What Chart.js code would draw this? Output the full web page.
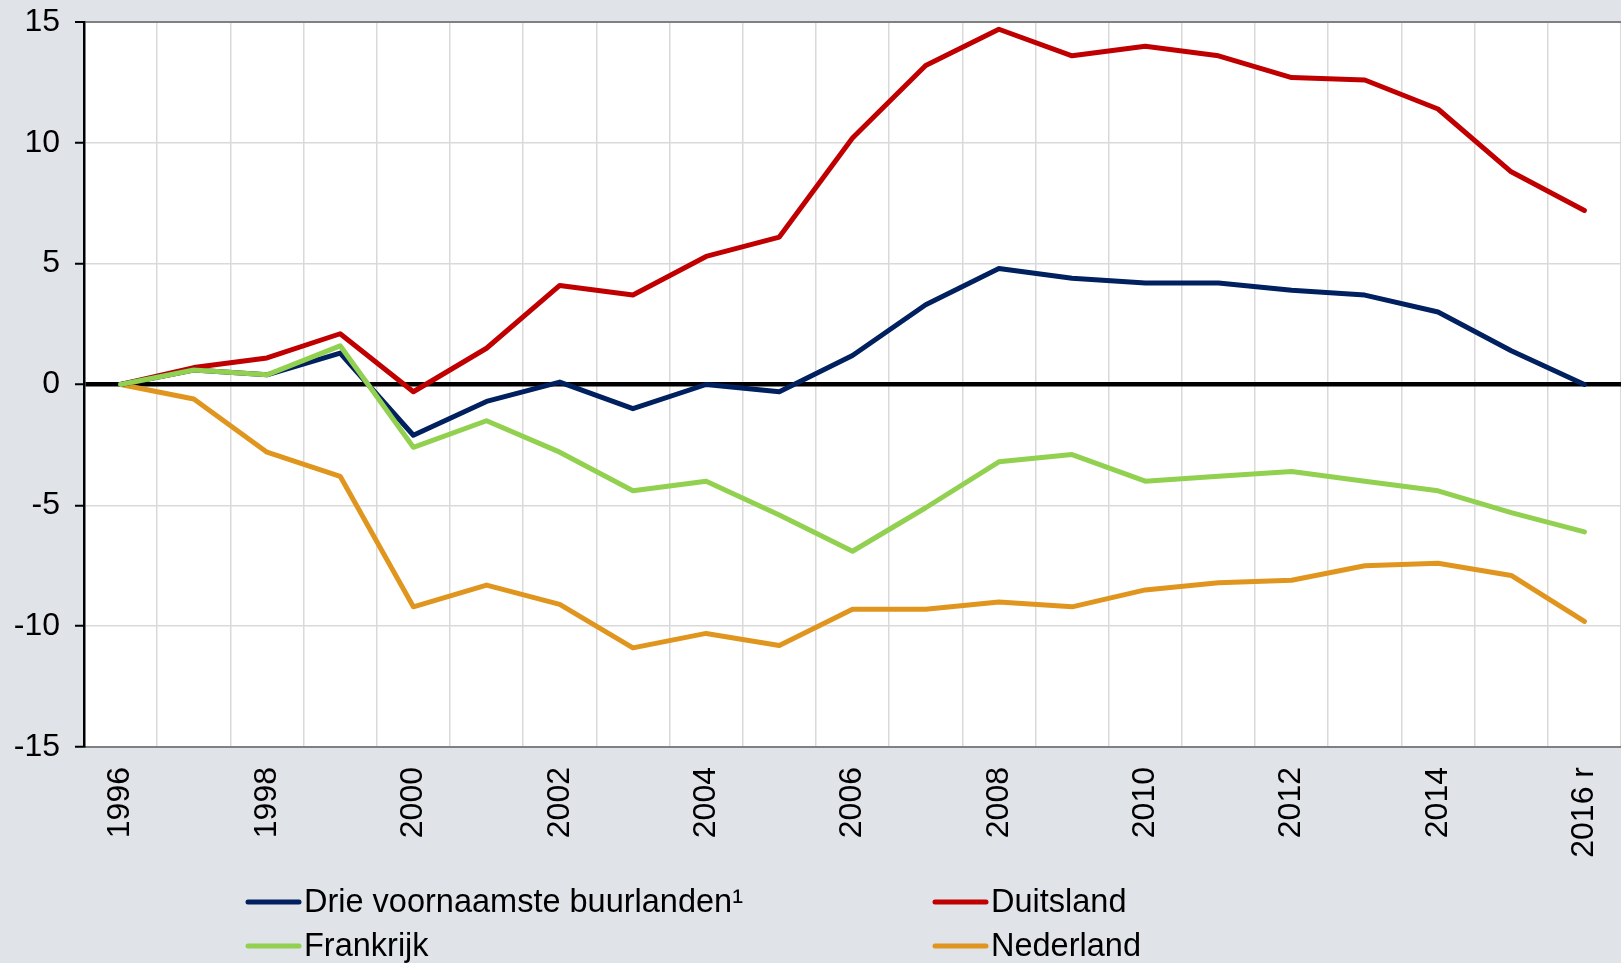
<!DOCTYPE html>
<html>
<head>
<meta charset="utf-8">
<script src="https://cdn.jsdelivr.net/npm/chart.js@4"></script>
<style>
  body { margin: 0; background: #e0e3e8; }
  #wrap { width: 1621px; height: 963px; position: relative; }
</style>
</head>
<body>
<div id="wrap"><canvas id="lineChart"></canvas></div>
<script>
const years = ['1996', '1997', '1998', '1999', '2000', '2001', '2002', '2003', '2004', '2005', '2006',
  '2007', '2008', '2009', '2010', '2011', '2012', '2013', '2014', '2015', '2016 r'];

const drieBuurlanden = [0, 0.6, 0.4, 1.3, -2.1, -0.7, 0.1, -1.0, 0.0, -0.3, 1.2, 3.3, 4.8, 4.4, 4.2, 4.2, 3.9, 3.7, 3.0, 1.4, 0.0];
const duitsland = [0, 0.7, 1.1, 2.1, -0.3, 1.5, 4.1, 3.7, 5.3, 6.1, 10.2, 13.2, 14.7, 13.6, 14.0, 13.6, 12.7, 12.6, 11.4, 8.8, 7.2];
const frankrijk = [0, 0.6, 0.4, 1.6, -2.6, -1.5, -2.8, -4.4, -4.0, -5.4, -6.9, -5.1, -3.2, -2.9, -4.0, -3.8, -3.6, -4.0, -4.4, -5.3, -6.1];
const nederland = [0, -0.6, -2.8, -3.8, -9.2, -8.3, -9.1, -10.9, -10.3, -10.8, -9.3, -9.3, -9.0, -9.2, -8.5, -8.2, -8.1, -7.5, -7.4, -7.9, -9.8];

const font = "'Liberation Sans', Arial, sans-serif";

// white plot area on the grey page
const plotBackground = {
  id: 'plotBackground',
  beforeDraw(chart) {
    const { ctx, chartArea } = chart;
    ctx.save();
    ctx.fillStyle = '#ffffff';
    ctx.fillRect(chartArea.left, chartArea.top, chartArea.right - chartArea.left, chartArea.bottom - chartArea.top);
    ctx.restore();
  }
};

// two-column legend under the chart
const gridLegend = {
  id: 'gridLegend',
  afterDraw(chart) {
    const ctx = chart.ctx;
    const cols = [246, 933];
    const rows = [902, 946];
    ctx.save();
    ctx.font = '32.5px ' + font;
    ctx.textBaseline = 'middle';
    chart.data.datasets.forEach((ds, n) => {
      const x = cols[n % 2];
      const y = rows[Math.floor(n / 2)];
      ctx.strokeStyle = ds.borderColor;
      ctx.lineWidth = 5;
      ctx.lineCap = 'round';
      ctx.beginPath();
      ctx.moveTo(x + 2, y);
      ctx.lineTo(x + 53, y);
      ctx.stroke();
      ctx.fillStyle = '#000';
      ctx.fillText(ds.label, x + 58, y + 1);
    });
    ctx.restore();
  }
};

const ctx = document.getElementById('lineChart').getContext('2d');
new Chart(ctx, {
  type: 'line',
  data: {
    labels: years,
    datasets: [
      { label: 'Drie voornaamste buurlanden¹', data: drieBuurlanden, borderColor: '#002060', order: 1 },
      { label: 'Duitsland', data: duitsland, borderColor: '#c00000', order: 2 },
      { label: 'Frankrijk', data: frankrijk, borderColor: '#92d050', order: 0 },
      { label: 'Nederland', data: nederland, borderColor: '#e0961e', order: 3 }
    ]
  },
  options: {
    responsive: true,
    maintainAspectRatio: false,
    animation: false,
    layout: { padding: { top: 22, right: 0, bottom: 106, left: 0 } },
    elements: {
      line: { borderWidth: 5, tension: 0, fill: false, borderCapStyle: 'round', borderJoinStyle: 'round' },
      point: { radius: 0 }
    },
    plugins: {
      legend: { display: false },
      tooltip: { enabled: false }
    },
    scales: {
      x: {
        offset: true,
        afterFit: scale => {
          scale.height = 110;
          scale.paddingRight = 0;
          scale.paddingLeft = 0;
        },
        grid: { offset: true, color: '#d9d9d9', lineWidth: 1.5, drawTicks: false },
        border: { color: '#808080', width: 2 },
        ticks: {
          autoSkip: false,
          minRotation: 90,
          maxRotation: 90,
          padding: 20,
          color: '#000',
          font: { family: font, size: 32 },
          callback: function (value, index) {
            return index % 2 === 0 ? this.getLabelForValue(value) : '';
          }
        }
      },
      y: {
        min: -15,
        max: 15,
        afterFit: scale => {
          scale.width = 84;
          scale.paddingTop = 0;
          scale.paddingBottom = 0;
        },
        grid: {
          color: c => c.tick.value === 0 ? '#000' : (c.tick.value === 15 ? '#808080' : '#d9d9d9'),
          lineWidth: c => c.tick.value === 0 ? 4.5 : (c.tick.value === 15 ? 2 : 1.5),
          tickColor: '#000',
          tickWidth: 2,
          tickLength: 9
        },
        border: { color: '#000', width: 2.5 },
        ticks: {
          stepSize: 5,
          padding: 15,
          color: '#000',
          font: { family: font, size: 32 }
        }
      }
    }
  },
  plugins: [plotBackground, gridLegend]
});
</script>
</body>
</html>
